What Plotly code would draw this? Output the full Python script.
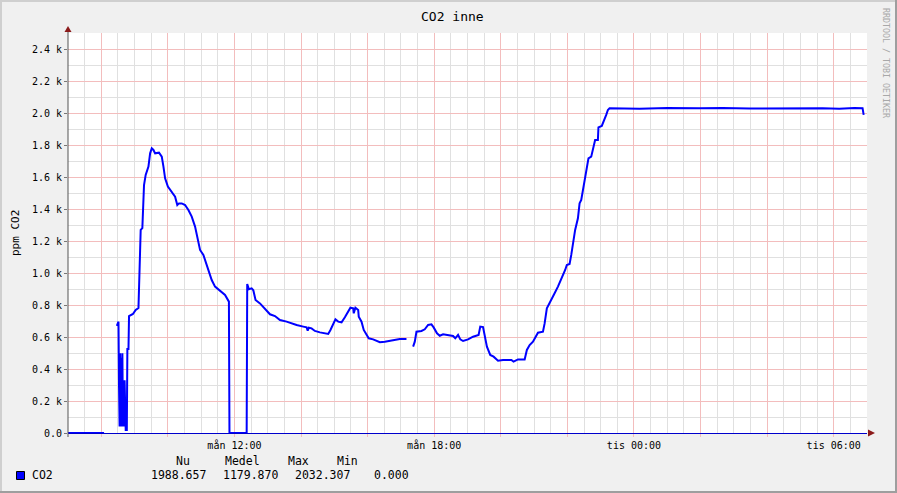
import plotly.graph_objects as go

# ---- data: minutes since Monday 00:00, CO2 ppm (None = no data) ----
minutes = [420, 485, 486,
           508, 511, 512, 513, 514, 515, 516, 517, 518, 519, 520, 521, 522, 523, 524, 526,
           527, 529, 530, 537, 542, 547, 548, 550, 551, 554, 555, 557, 560, 565, 568, 571,
           574, 577, 584, 589, 592, 595, 600, 607, 613, 617, 620, 625, 631, 637, 643, 649,
           653, 658, 664, 668, 673, 679, 685, 691, 697, 703, 710, 711, 742,
           743, 746, 751, 754, 758, 766, 775, 784, 793, 802, 814, 823, 832, 844, 850, 852,
           854, 859, 865, 874, 883, 889, 893, 898, 902, 907, 913, 919, 925, 929, 934, 935,
           938, 943, 944, 949, 953, 958, 962, 970, 976, 982, 991, 1000, 1009, 1018, 1030, 1031,
           1042, 1045, 1048, 1057, 1063, 1069, 1075, 1079, 1085, 1090, 1096, 1105, 1114, 1118,
           1123, 1127, 1132, 1141, 1150, 1160, 1163, 1168, 1171, 1175, 1181, 1187, 1195, 1204,
           1219, 1223, 1231, 1243, 1247, 1252, 1258, 1264, 1267, 1276, 1279, 1283, 1288, 1293,
           1297, 1303, 1307, 1312, 1316, 1319, 1324, 1327, 1331, 1334, 1339, 1342, 1345, 1348,
           1351, 1355, 1358, 1363, 1366, 1370, 1375, 1376, 1382, 1387, 1390, 1393, 1396,
           1450, 1500, 1558, 1600, 1648, 1700, 1738, 1780, 1810, 1837, 1852, 1854]
ppm = [0, 0, None,
       669, 696, 281, 40, 498, 40, 470, 40, 498, 40, 290, 40, 330, 40, 19, 19,
       525, 525, 731, 744, 769, 781, 875, 1094, 1269, 1281, 1394, 1550, 1613, 1665, 1748, 1779,
       1769, 1748, 1752, 1727, 1665, 1592, 1540, 1508, 1477, 1425, 1435, 1435, 1425, 1394, 1352, 1290,
       1217, 1144, 1113, 1071, 1019, 956, 915, 898, 883, 863, 821, 0, 0,
       931, 898, 904, 892, 831, 810, 773, 742, 731, 706, 696, 685, 675, 665, 660, 640,
       658, 654, 638, 629, 623, 619, 644, 685, 710, 696, 692, 723, 758, 783, 779, 748,
       783, 769, 727, 696, 644, 613, 592, 585, 575, 567, 571, 577, 581, 588, 588, None,
       540, 571, 633, 638, 648, 675, 679, 660, 623, 608, 617, 613, 606, 592,
       613, 585, 575, 585, 602, 613, 665, 662, 613, 540, 488, 477, 452, 456,
       456, 446, 460, 460, 519, 550, 571, 613, 627, 633, 685, 779, 810, 842,
       873, 915, 946, 977, 1019, 1050, 1056, 1113, 1196, 1269, 1342, 1435, 1456, 1519,
       1581, 1644, 1717, 1727, 1769, 1831, 1831, 1910, 1919, 1956, 1988, 2019, 2029,
       2027, 2031, 2029, 2032, 2028, 2030, 2031, 2029, 2026, 2032, 2030, 1988]

x_tick_vals = [480, 600, 720, 840, 960, 1080, 1200, 1320, 1440, 1560, 1680, 1800]
x_tick_text = ["", "", "mån 12:00", "", "", "mån 18:00", "", "", "tis 00:00", "", "", "tis 06:00"]
y_tick_vals = [0, 200, 400, 600, 800, 1000, 1200, 1400, 1600, 1800, 2000, 2200, 2400]
y_tick_text = ["0.0", "0.2 k", "0.4 k", "0.6 k", "0.8 k", "1.0 k", "1.2 k", "1.4 k",
               "1.6 k", "1.8 k", "2.0 k", "2.2 k", "2.4 k"]
stat_names = ["Nu", "Medel", "Max", "Min"]
stat_values = [1988.657, 1179.870, 2032.307, 0.000]

W, H = 897, 493
L, R, T, B = 68, 30, 33, 60
PW, PH = W - L - R, H - T - B
MONO = "DejaVu Sans Mono"

def px(xp):
    return (xp - L) / PW

def py(yp):
    return (T + PH - yp) / PH

fig = go.Figure()
fig.add_trace(go.Scatter(x=minutes, y=ppm, mode="lines", connectgaps=False,
                         line=dict(color="#0000FF", width=2), showlegend=False,
                         hoverinfo="skip"))

major_grid = "#F3BDBD"
minor_grid = "#E0E0E0"

fig.update_layout(
    width=W, height=H,
    margin=dict(l=L, r=R, t=T, b=B),
    paper_bgcolor="#F0F0F0", plot_bgcolor="#FFFFFF",
    font=dict(family=MONO, size=10, color="#000000"),
    xaxis=dict(range=[420, 1860], tickmode="array", tickvals=x_tick_vals, ticktext=x_tick_text,
               showgrid=True, gridcolor=major_grid, gridwidth=1, zeroline=False,
               ticks="outside", ticklen=3, tickcolor=major_grid,
               showline=True, linecolor="#0000CC", linewidth=1,
               minor=dict(tickmode="linear", tick0=0, dtick=30, showgrid=True,
                          gridcolor=minor_grid, gridwidth=1, ticks=""),
               tickfont=dict(family=MONO, size=10)),
    yaxis=dict(range=[0, 2500], tickmode="array", tickvals=y_tick_vals, ticktext=y_tick_text,
               showgrid=True, gridcolor=major_grid, gridwidth=1, zeroline=False,
               ticks="outside", ticklen=3, tickcolor="#777777",
               showline=False,
               minor=dict(tickmode="linear", tick0=0, dtick=100, showgrid=True,
                          gridcolor=minor_grid, gridwidth=1, ticks=""),
               tickfont=dict(family=MONO, size=10)),
)

shapes = []
# y axis line
shapes.append(dict(type="line", xref="paper", yref="paper", x0=0, x1=0,
                   y0=py(437), y1=py(29), line=dict(color="#555555", width=1)))
# arrows
arrow = "#8B1A1A"
shapes.append(dict(type="path", xref="paper", yref="paper",
                   path=f"M {px(64.5)},{py(32)} L {px(71.5)},{py(32)} L {px(68)},{py(26)} Z",
                   fillcolor=arrow, line=dict(color=arrow, width=0)))
shapes.append(dict(type="path", xref="paper", yref="paper",
                   path=f"M {px(868)},{py(429.5)} L {px(868)},{py(436.5)} L {px(875)},{py(433)} Z",
                   fillcolor=arrow, line=dict(color=arrow, width=0)))
# frame of image (3D look)
shapes.append(dict(type="line", xref="paper", yref="paper", x0=px(0), x1=px(W),
                   y0=py(1), y1=py(1), line=dict(color="#CFCFCF", width=2)))
shapes.append(dict(type="line", xref="paper", yref="paper", x0=px(1), x1=px(1),
                   y0=py(0), y1=py(H), line=dict(color="#CFCFCF", width=2)))
shapes.append(dict(type="line", xref="paper", yref="paper", x0=px(W - 1), x1=px(W - 1),
                   y0=py(0), y1=py(H), line=dict(color="#9E9E9E", width=2)))
shapes.append(dict(type="line", xref="paper", yref="paper", x0=px(0), x1=px(W),
                   y0=py(H - 1), y1=py(H - 1), line=dict(color="#9E9E9E", width=2)))
# legend swatch
shapes.append(dict(type="rect", xref="paper", yref="paper", x0=px(16.5), x1=px(24.5),
                   y0=py(479.5), y1=py(471.5), fillcolor="#0000FF",
                   line=dict(color="#000000", width=1)))
fig.update_layout(shapes=shapes)

ann = []
ann.append(dict(text="CO2 inne", xref="paper", yref="paper", x=px(452), y=py(17),
                showarrow=False, xanchor="center", yanchor="middle",
                font=dict(family=MONO, size=13, color="#000000")))
ann.append(dict(text="ppm CO2", xref="paper", yref="paper", x=px(15), y=py(233),
                showarrow=False, textangle=-90, xanchor="center", yanchor="middle",
                font=dict(family=MONO, size=11, color="#000000")))
ann.append(dict(text="RRDTOOL / TOBI OETIKER", xref="paper", yref="paper", x=px(886), y=py(63),
                showarrow=False, textangle=90, xanchor="center", yanchor="middle",
                font=dict(family=MONO, size=8.3, color="#A8A8A8")))
ann.append(dict(text="CO2", xref="paper", yref="paper", x=px(30), y=py(475),
                showarrow=False, xanchor="left", yanchor="middle",
                font=dict(family=MONO, size=11.5, color="#000000")))
header_centers = [182.5, 242, 298, 347]
value_rights = [207.5, 279.5, 351.5, 410.5]
for name, cx in zip(stat_names, header_centers):
    ann.append(dict(text=name, xref="paper", yref="paper", x=px(cx), y=py(461),
                    showarrow=False, xanchor="center", yanchor="middle",
                    font=dict(family=MONO, size=11.5, color="#000000")))
for val, rx in zip(stat_values, value_rights):
    ann.append(dict(text=f"{val:.3f}", xref="paper", yref="paper", x=px(rx), y=py(475),
                    showarrow=False, xanchor="right", yanchor="middle",
                    font=dict(family=MONO, size=11.5, color="#000000")))
fig.update_layout(annotations=ann)

fig.write_html("out.html", config={"displayModeBar": False},
               post_script="document.body.style.margin='0';document.body.style.overflow='hidden';")
